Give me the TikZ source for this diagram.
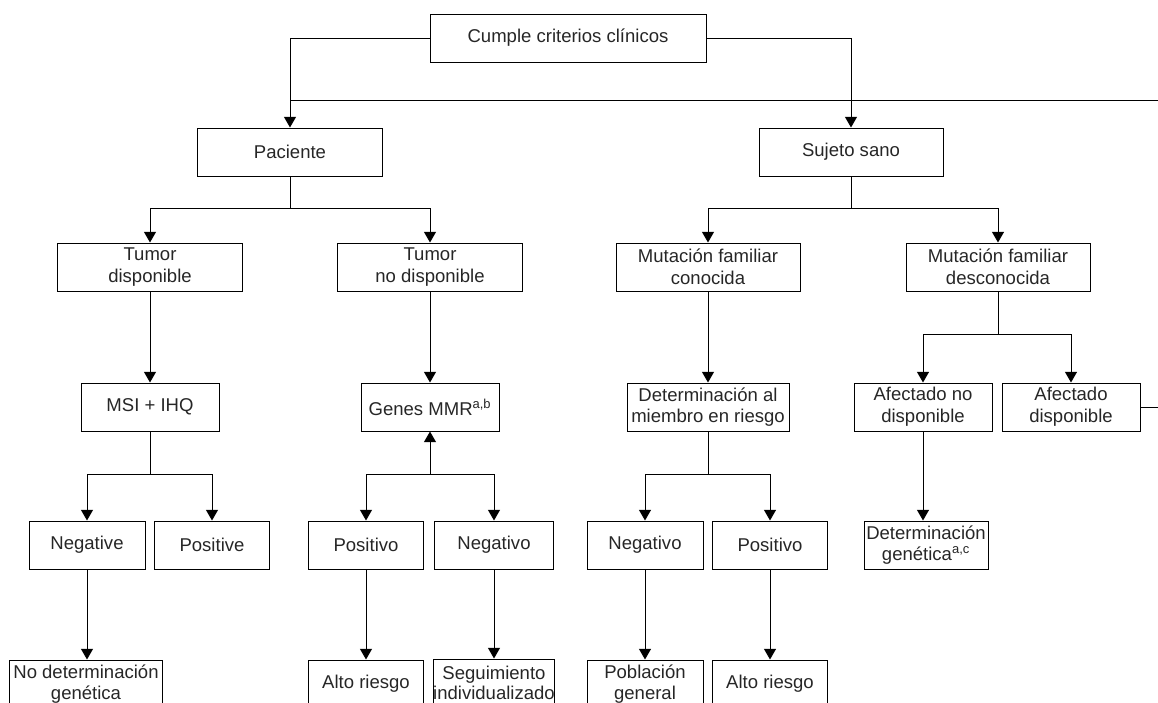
\documentclass[tikz,border=0pt]{standalone}
\usepackage{fontspec}
\setmainfont{Liberation Sans}
\usetikzlibrary{arrows.meta}

\tikzset{every picture/.style={line width=0.75pt}}
\tikzset{
  box/.style={draw, align=center, inner sep=0pt, minimum height=36pt,
    font=\fontsize{13.9}{16.3}\selectfont, text=black!85},
  bw/.style={minimum width=#1*0.75pt},
  arr/.style={-{Triangle[length=8pt,width=9pt]}}
}

\begin{document}
\begin{tikzpicture}[x=0.75pt,y=0.75pt,yscale=-1,xscale=1]
		\useasboundingbox (0,0) rectangle (1158,703);
		\clip (0,0) rectangle (1158,703);
		
		%Levels
		\coordinate (y1) at (0,100);
		\coordinate (y2) at (0,208);
		\coordinate (y3) at (0,474);
		\coordinate (y4) at (0,334);
		\coordinate (edgetop) at (1158,100);
		\coordinate (edgeaf) at (1158,406);
		
		% Text Node
		\node [box, bw=276] (cumple) at (568,38) {Cumple criterios clínicos};
		% Text Node
		\node [box, bw=185] (paciente) at (290,152) {Paciente};
		% Text Node
		\node [box, bw=184] (sano) at (851,152) {Sujeto sano};
		% Text Node
		\node [box, bw=185] (tumdisp) at (150,267) {Tumor\\disponible};
		% Text Node
		\node [box, bw=185] (tumno) at (430,267) {Tumor\\no disponible};
		% Text Node
		\node [box, bw=184] (mutcon) at (708,267) {Mutación familiar\\conocida};
		% Text Node
		\node [box, bw=184] (mutdes) at (998,267) {Mutación familiar\\desconocida};
		% Text Node
		\node [box, bw=138] (msi) at (150,407) {MSI + IHQ};
		% Text Node
		\node [box, bw=138] (genes) at (430,407) {Genes MMR\textsuperscript{a,b}};
		% Text Node
		\node [box, bw=162] (detmiem) at (708,407) {Determinación al\\miembro en riesgo};
		% Text Node
		\node [box, bw=138] (afno) at (923,407) {Afectado no\\disponible};
		% Text Node
		\node [box, bw=138] (afsi) at (1071,407) {Afectado\\disponible};
		% Text Node
		\node [box, bw=116] (neg1) at (87,545) {Negative};
		% Text Node
		\node [box, bw=115] (pos1) at (212,545) {Positive};
		% Text Node
		\node [box, bw=115] (pos2) at (366,545) {Positivo};
		% Text Node
		\node [box, bw=119] (neg2) at (494,545) {Negativo};
		% Text Node
		\node [box, bw=116] (neg3) at (645,545) {Negativo};
		% Text Node
		\node [box, bw=115] (pos3) at (770,545) {Positivo};
		% Text Node
		\node [box, bw=124] (detgen) at (926,545) {Determinación\\genética\textsuperscript{a,c}};
		% Text Node
		\node [box, bw=153] (nodet) at (86,684) {No determinación\\genética};
		% Text Node
		\node [box, bw=115] (alto1) at (366,684) {Alto riesgo};
		% Text Node
		\node [box, bw=120, font=\fontsize{13.9}{15}\selectfont] (seg) at (494,683) {Seguimiento\\individualizado};
		% Text Node
		\node [box, bw=116] (pob) at (645,684) {Población\\general};
		% Text Node
		\node [box, bw=115] (alto2) at (770,684) {Alto riesgo};
		
		%Top branches
		\draw [arr] (cumple.west) -| (paciente.north);
		\draw [arr] (cumple.east) -| (sano.north);
		\draw (paciente.north |- edgetop) -- (edgetop);
		
		%Paciente
		\draw (paciente.south) -- (paciente.south |- y2) coordinate (pj);
		\draw [arr] (pj) -| (tumdisp.north);
		\draw [arr] (pj) -| (tumno.north);
		\draw [arr] (tumdisp) -- (msi);
		\draw [arr] (tumno) -- (genes);
		\draw (msi.south) -- (msi.south |- y3) coordinate (mj);
		\draw [arr] (mj) -| (neg1.north);
		\draw [arr] (mj) -| (pos1.north);
		\draw [arr] (genes.south |- y3) coordinate (gj) -- (genes.south);
		\draw [arr] (gj) -| (pos2.north);
		\draw [arr] (gj) -| (neg2.north);
		\draw [arr] (neg1) -- (neg1 |- nodet.north);
		\draw [arr] (pos2) -- (alto1);
		\draw [arr] (neg2) -- (seg);
		
		%Sujeto sano
		\draw (sano.south) -- (sano.south |- y2) coordinate (sj);
		\draw [arr] (sj) -| (mutcon.north);
		\draw [arr] (sj) -| (mutdes.north);
		\draw [arr] (mutcon) -- (detmiem);
		\draw (detmiem.south) -- (detmiem.south |- y3) coordinate (dj);
		\draw [arr] (dj) -| (neg3.north);
		\draw [arr] (dj) -| (pos3.north);
		\draw [arr] (neg3) -- (pob);
		\draw [arr] (pos3) -- (alto2);
		\draw (mutdes.south) -- (mutdes.south |- y4) coordinate (uj);
		\draw [arr] (uj) -| (afno.north);
		\draw [arr] (uj) -| (afsi.north);
		\draw [arr] (afno.south) -- (afno.south |- detgen.north);
		\draw (afsi.east) -- (afsi.east -| edgeaf);
		
	\end{tikzpicture}
\end{document}
